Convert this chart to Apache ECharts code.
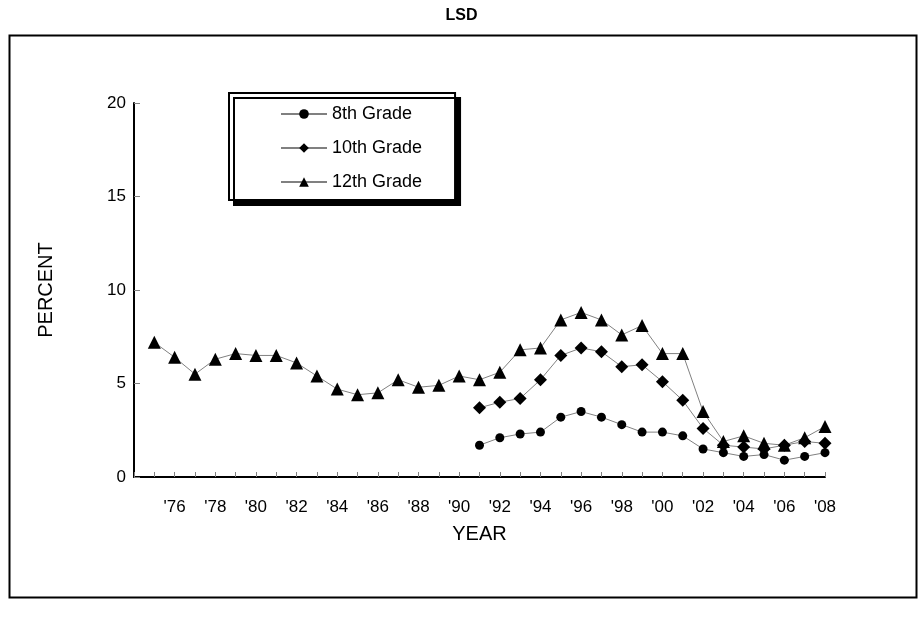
<!DOCTYPE html>
<html>
<head>
<meta charset="utf-8">
<script src="https://cdn.jsdelivr.net/npm/echarts@6/dist/echarts.min.js"></script>
<style>html,body{margin:0;padding:0;background:#fff}#c{width:923px;height:617px}</style>
</head>
<body>
<div id="c"></div>
<script>
// Years
const years12 = [1975,1976,1977,1978,1979,1980,1981,1982,1983,1984,1985,1986,1987,1988,1989,1990,1991,1992,1993,1994,1995,1996,1997,1998,1999,2000,2001,2002,2003,2004,2005,2006,2007,2008];
const years8_10 = [1991,1992,1993,1994,1995,1996,1997,1998,1999,2000,2001,2002,2003,2004,2005,2006,2007,2008];
// Values (percent)
const grade12 = [7.2,6.4,5.5,6.3,6.6,6.5,6.5,6.1,5.4,4.7,4.4,4.5,5.2,4.8,4.9,5.4,5.2,5.6,6.8,6.9,8.4,8.8,8.4,7.6,8.1,6.6,6.6,3.5,1.9,2.2,1.8,1.7,2.1,2.7];
const grade10 = [3.7,4.0,4.2,5.2,6.5,6.9,6.7,5.9,6.0,5.1,4.1,2.6,1.7,1.6,1.5,1.7,1.9,1.8];
const grade8 = [1.7,2.1,2.3,2.4,3.2,3.5,3.2,2.8,2.4,2.4,2.2,1.5,1.3,1.1,1.2,0.9,1.1,1.3];
const seriesNames = ['8th Grade','10th Grade','12th Grade'];
const yTicks = [0,5,10,15,20];

const FONT = 'Liberation Sans, Arial, sans-serif';
const pair = (xs, ys) => xs.map((x, i) => [x, ys[i]]);

const chart = echarts.init(document.getElementById('c'), null, {renderer: 'canvas'});
const lineStyle = {color: '#808080', width: 1};
chart.setOption({
  animation: false,
  title: {
    text: 'LSD', left: 'center', top: 3,
    textStyle: {fontFamily: FONT, fontSize: 16, fontWeight: 'bold', color: '#000'}
  },
  graphic: [{
    type: 'rect', left: 7, top: 33, z: -1,
    shape: {width: 907, height: 562},
    style: {fill: 'none', stroke: '#000', lineWidth: 2}
  }],
  legend: {
    orient: 'vertical', left: 229, top: 93,
    data: seriesNames,
    itemWidth: 46, itemHeight: 12, itemGap: 16,
    padding: [12, 33, 9, 51],
    backgroundColor: '#fff',
    borderColor: '#000', borderWidth: 2,
    shadowColor: '#000', shadowBlur: 0, shadowOffsetX: 5, shadowOffsetY: 5,
    textStyle: {fontFamily: FONT, fontSize: 18, color: '#000'}
  },
  grid: {left: 134, right: 98, top: 103, bottom: 140},
  xAxis: {
    type: 'value', min: 1974, max: 2008, interval: 1,
    name: 'YEAR', nameLocation: 'middle', nameGap: 47,
    nameTextStyle: {fontFamily: FONT, fontSize: 20, color: '#000'},
    axisLine: {lineStyle: {color: '#000', width: 2}},
    axisTick: {inside: true, length: 5, lineStyle: {color: '#808080'}},
    splitLine: {show: false},
    axisLabel: {
      margin: 22, fontFamily: FONT, fontSize: 17, color: '#000',
      formatter: v => (v >= 1976 && v % 2 === 0) ? "'" + String(v).slice(2) : ''
    }
  },
  yAxis: {
    type: 'value', min: yTicks[0], max: yTicks[yTicks.length - 1], interval: 5,
    name: 'PERCENT', nameLocation: 'middle', nameGap: 78, nameRotate: 90,
    nameTextStyle: {fontFamily: FONT, fontSize: 20, color: '#000'},
    axisLine: {show: true, lineStyle: {color: '#000', width: 2}},
    axisTick: {show: true, inside: true, length: 6, lineStyle: {color: '#808080'}},
    splitLine: {show: false},
    axisLabel: {margin: 8, fontFamily: FONT, fontSize: 17, color: '#000'}
  },
  series: [
    {name: seriesNames[0], type: 'line', data: pair(years8_10, grade8), symbol: 'circle', symbolSize: 9,
     itemStyle: {color: '#000'}, lineStyle: lineStyle},
    {name: seriesNames[1], type: 'line', data: pair(years8_10, grade10), symbol: 'diamond', symbolSize: 13,
     itemStyle: {color: '#000'}, lineStyle: lineStyle},
    {name: seriesNames[2], type: 'line', data: pair(years12, grade12), symbol: 'triangle', symbolSize: 13,
     itemStyle: {color: '#000'}, lineStyle: lineStyle}
  ]
});
</script>
</body>
</html>
